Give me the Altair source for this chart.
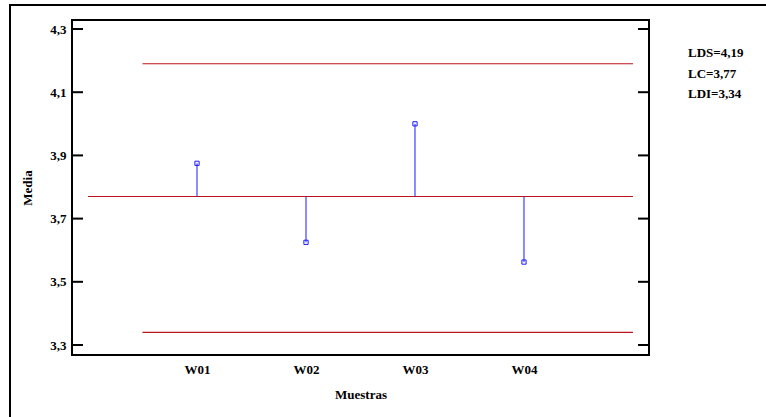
import json
import altair as alt
import pandas as pd

# Sample means per sample
samples = ["W01", "W02", "W03", "W04"]
positions = [1, 2, 3, 4]
means = [3.875, 3.625, 4.00, 3.5625]

# Control limits
limit_names = ["LDS", "LC", "LDI"]
limit_values = [4.19, 3.77, 3.34]

# Axis tick values
y_ticks = [3.3, 3.5, 3.7, 3.9, 4.1, 4.3]

FONT = "Liberation Serif"
RED = "#bc141c"
BLUE = "#1a1aff"

lc = limit_values[limit_names.index("LC")]
pts = pd.DataFrame({"muestra": samples, "pos": positions, "media": means, "lc": lc})

# horizontal extent of each control line on the sample axis
extent = {"LDS": (0.5, 5.0), "LC": (0.0, 5.0), "LDI": (0.5, 5.0)}
lines = pd.DataFrame({
    "name": limit_names,
    "value": limit_values,
    "x0": [extent[n][0] for n in limit_names],
    "x1": [extent[n][1] for n in limit_names],
})

ticks = pd.DataFrame({"v": y_ticks})

xscale = alt.Scale(domain=[-0.147, 5.147], nice=False, zero=False)
yscale = alt.Scale(domain=[3.2684, 4.3285], nice=False, zero=False)

label_expr = json.dumps(samples) + "[datum.value - 1]"

x_axis = alt.Axis(
    title="Muestras", values=positions, labelExpr=label_expr, ticks=False, domain=False,
    grid=False, labelFont=FONT, labelFontSize=13, labelFontWeight="bold", labelColor="black",
    labelPadding=8, titleFont=FONT, titleFontSize=13, titleFontWeight="bold",
    titleColor="black", titleY=33, titleBaseline="top",
)
y_axis = alt.Axis(
    title="Media", values=y_ticks, labelExpr="replace(format(datum.value, '.1f'), '.', ',')",
    ticks=False, domain=False, grid=False, labelFont=FONT, labelFontSize=13,
    labelFontWeight="bold", labelColor="black", labelPadding=6, labelBaseline="middle",
    titleFont=FONT, titleFontSize=13, titleFontWeight="bold", titleColor="black",
    titleX=-45, titleY=167.5, titleAngle=-90, titleAlign="center", titleBaseline="middle",
)

control = alt.Chart(lines).mark_rule(color=RED, strokeWidth=1.2).encode(
    x=alt.X("x0:Q", scale=xscale, axis=x_axis),
    x2="x1:Q",
    y=alt.Y("value:Q", scale=yscale, axis=y_axis),
)

stems = alt.Chart(pts).mark_rule(color=BLUE, strokeWidth=1).encode(
    x=alt.X("pos:Q", scale=xscale, axis=x_axis),
    y=alt.Y("lc:Q", scale=yscale, axis=y_axis),
    y2="media:Q",
)

points = alt.Chart(pts).mark_point(
    shape="square", filled=False, size=18, color=BLUE, strokeWidth=1, opacity=1
).encode(
    x=alt.X("pos:Q", scale=xscale, axis=x_axis),
    y=alt.Y("media:Q", scale=yscale, axis=y_axis),
)

left_ticks = alt.Chart(ticks).mark_rule(color="black", strokeWidth=2).encode(
    y=alt.Y("v:Q", scale=yscale, axis=y_axis), x=alt.value(0), x2=alt.value(11)
)
right_ticks = alt.Chart(ticks).mark_rule(color="black", strokeWidth=2).encode(
    y=alt.Y("v:Q", scale=yscale, axis=y_axis), x=alt.value(566), x2=alt.value(577)
)

def fmt(v):
    return f"{v:.2f}".replace(".", ",")

legend_text = "\n".join(f"{n}={fmt(v)}" for n, v in zip(limit_names, limit_values))
legend = alt.Chart(pd.DataFrame({"t": [legend_text]})).mark_text(
    align="left", baseline="alphabetic", font=FONT, fontSize=13, fontWeight="bold",
    color="black", lineBreak="\n", lineHeight=20.5,
).encode(text="t:N", x=alt.value(616), y=alt.value(37))

# outer frame around the whole figure
frame = alt.Chart(pd.DataFrame({"a": [0]})).mark_rect(
    fill=None, stroke="black", strokeWidth=2
).encode(x=alt.value(-62), x2=alt.value(760), y=alt.value(-15), y2=alt.value(460))

chart = alt.layer(
    control, stems, points, left_ticks, right_ticks, legend, frame
).properties(
    width=577, height=335,
    autosize=alt.AutoSizeParams(type="none"),
    padding={"left": 72, "top": 20, "right": 117, "bottom": 62},
    background="white",
).configure_view(stroke="black", strokeWidth=2)

chart.save("out.html", embed_options={"renderer": "svg", "actions": False})
